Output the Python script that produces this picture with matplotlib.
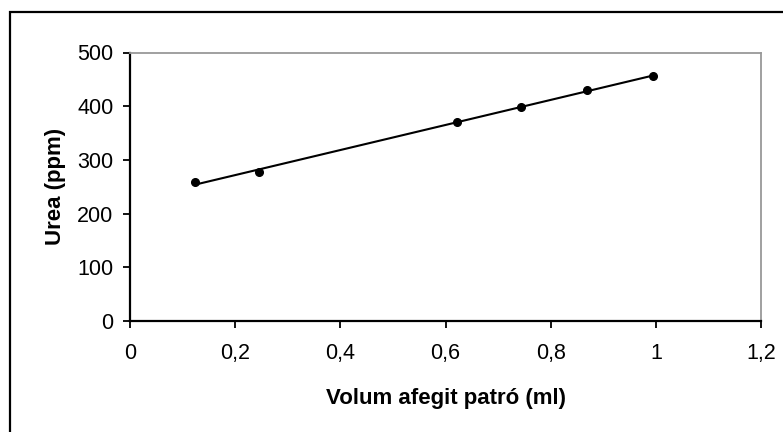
import numpy as np
import matplotlib
matplotlib.use("Agg")
import matplotlib.pyplot as plt
from matplotlib.patches import Rectangle

plt.rcParams["font.family"] = ["Liberation Sans", "DejaVu Sans"]

# Standard additions: volume of urea standard added vs measured urea
volum_ml = [0.123, 0.246, 0.621, 0.744, 0.870, 0.995]
urea_ppm = [258, 277, 370, 399, 430, 456]

x_ticks = [0, 0.2, 0.4, 0.6, 0.8, 1.0, 1.2]
x_labels = ["0", "0,2", "0,4", "0,6", "0,8", "1", "1,2"]
y_ticks = [0, 100, 200, 300, 400, 500]

fig = plt.figure(figsize=(7.83, 4.32), dpi=100)
ax = fig.add_axes([130 / 783, 1 - 321 / 432, 631 / 783, 268.5 / 432])

# linear trendline through the points
slope, intercept = np.polyfit(volum_ml, urea_ppm, 1)
xf = np.array([volum_ml[0], volum_ml[-1]])
ax.plot(xf, slope * xf + intercept, color="black", lw=1.5)
ax.plot(volum_ml, urea_ppm, "o", color="black", ms=5.5)

ax.set_xlim(0, 1.2)
ax.set_ylim(0, 500)
ax.set_xticks(x_ticks)
ax.set_xticklabels(x_labels)
ax.set_yticks(y_ticks)
ax.tick_params(direction="out", length=5, width=1.3, labelsize=15.5)
ax.tick_params(axis="x", pad=11)
ax.tick_params(axis="y", pad=7)

for side in ("left", "bottom"):
    ax.spines[side].set_color("black")
    ax.spines[side].set_linewidth(1.6)
for side in ("top", "right"):
    ax.spines[side].set_color("#999999")
    ax.spines[side].set_linewidth(1.3)

ax.set_xlabel("Volum afegit patró (ml)", fontsize=16, fontweight="bold", labelpad=17)
ax.set_ylabel("Urea (ppm)", fontsize=16, fontweight="bold", labelpad=8)

# chart border
fig.patches.append(Rectangle((10 / 783, -0.05), 1.2, 1 - 12 / 432 + 0.05,
                             transform=fig.transFigure, fill=False,
                             edgecolor="black", lw=1.6))

fig.savefig("out.png", dpi=100)
